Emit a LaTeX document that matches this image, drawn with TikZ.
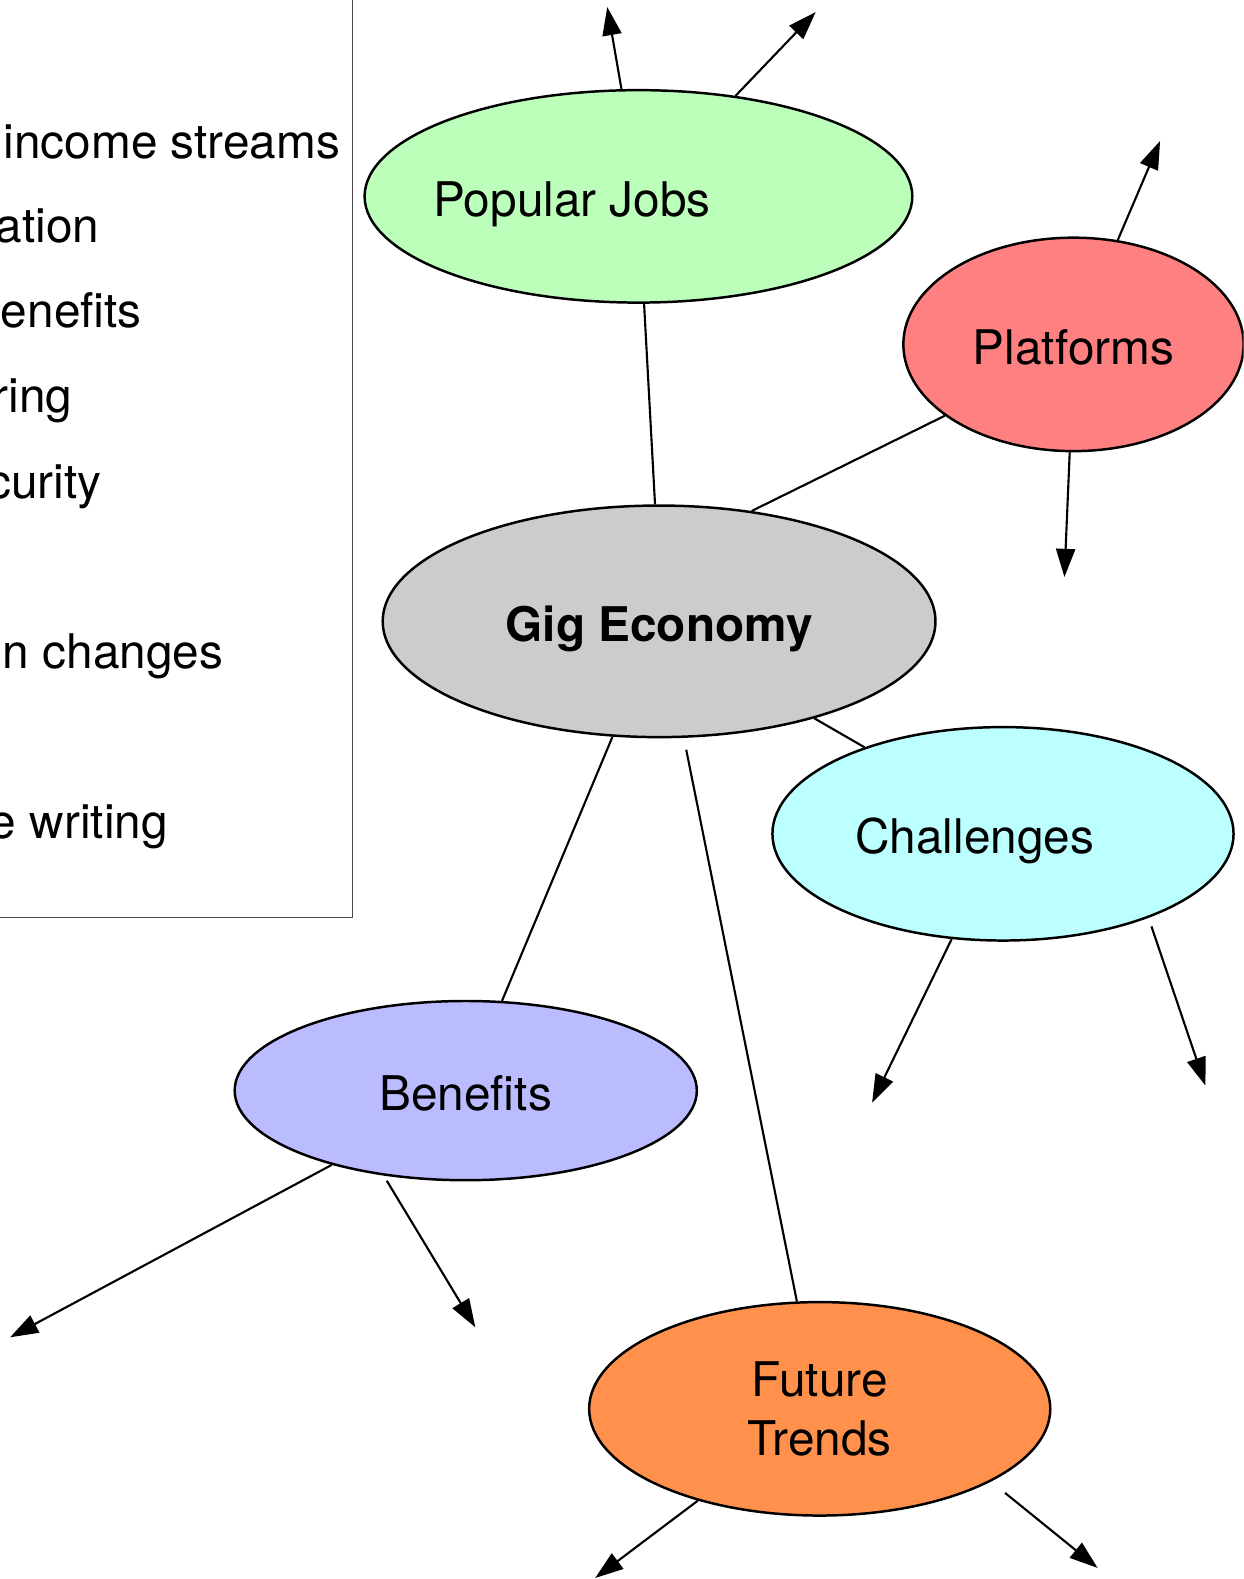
\documentclass[tikz,border=0pt]{standalone}
\usepackage{fontspec}
\setmainfont{TeX Gyre Heros}
\usetikzlibrary{shapes.geometric, arrows.meta}
\definecolor{jobsfill}{HTML}{BBFFBB}
\definecolor{platfill}{HTML}{FF8080}
\definecolor{gigfill}{HTML}{CCCCCC}
\definecolor{chalfill}{HTML}{BBFFFF}
\definecolor{benfill}{HTML}{BBBBFF}
\definecolor{trendfill}{HTML}{FF914D}

\begin{document}
\begin{tikzpicture}[x=0.02cm, y=-0.02cm,
	font=\fontsize{27}{33}\selectfont,
	bubble/.style={ellipse, draw, line width=1.4pt, inner sep=0pt, align=center},
	oneline/.style={text height=22.7pt, text depth=0pt},
	legtext/.style={anchor=base east, inner sep=0pt},
	link/.style={line width=1.2pt},
	spoke/.style={line width=1.2pt, -{Triangle[length=5.6mm,width=3.8mm]}}]
	\useasboundingbox (0,0) rectangle (1235,1568);
	\clip (0,0) rectangle (1235,1568);

	\node (legend) [draw=black!70, line width=0.6pt, anchor=south east, minimum width=8cm, minimum height=19cm] at (351,912) {};
	\foreach \x/\y/\txt [count=\i] in {338/157/income streams, 99/241/ation, 141/325/enefits, 72/410/ring, 101/495/curity, 222/664/n changes, 167/833/e writing}
		\node (leg\i) [legtext] at (\x,\y) {\txt};

	\node (jobs) [bubble, oneline, fill=jobsfill, minimum width=10.88cm, minimum height=4.22cm] at (634,195) {\hspace*{-2.64cm}Popular Jobs};
	\node (plat) [bubble, oneline, fill=platfill, minimum width=6.76cm, minimum height=4.24cm] at (1066,342) {Platforms};
	\node (gig) [bubble, oneline, fill=gigfill, minimum width=10.98cm, minimum height=4.6cm] at (654.5,617) {\bfseries Gig Economy};
	\node (chal) [bubble, oneline, fill=chalfill, minimum width=9.16cm, minimum height=4.24cm] at (996,828) {\hspace*{-1.12cm}Challenges};
	\node (ben) [bubble, oneline, fill=benfill, minimum width=9.18cm, minimum height=3.56cm] at (462.5,1083) {Benefits};
	\node (trend) [bubble, fill=trendfill, minimum width=9.16cm, minimum height=4.24cm] at (814,1399) {Future\\Trends};

	\draw [link] (gig.50) -- (plat.209);
	\draw [link] (gig.92) -- (jobs.-87);
	\draw [link] (gig.-32) -- (chal.148);
	\draw [link] (gig.248) -- (ben.68);
	\draw [link, shorten <=0.24cm] (gig.-78) -- (trend.102);

	\coordinate (j1) at (603,7);
	\coordinate (j2) at (810,12);
	\coordinate (p1) at (1152,140);
	\coordinate (p2) at (1057,573);
	\coordinate (c1) at (866,1095);
	\coordinate (c2) at (1197,1078);
	\coordinate (b1) at (10,1328);
	\coordinate (b2) at (472,1318);
	\coordinate (f1) at (591,1567);
	\coordinate (f2) at (1090,1557);

	\draw [spoke] (jobs.99) -- (j1);
	\draw [spoke] (jobs.46) -- (j2);
	\draw [spoke] (plat.67) -- (p1);
	\draw [spoke] (plat.-92) -- (p2);
	\draw [spoke] (chal.-116) -- (c1);
	\draw [spoke, shorten <=0.18cm] (chal.-30) -- (c2);
	\draw [spoke] (ben.209) -- (b1);
	\draw [spoke, shorten <=0.12cm] (ben.226) -- (b2);
	\draw [spoke] (trend.217.5) -- (f1);
	\draw [spoke, shorten <=0.36cm] (trend.-23.5) -- (f2);
\end{tikzpicture}
\end{document}
